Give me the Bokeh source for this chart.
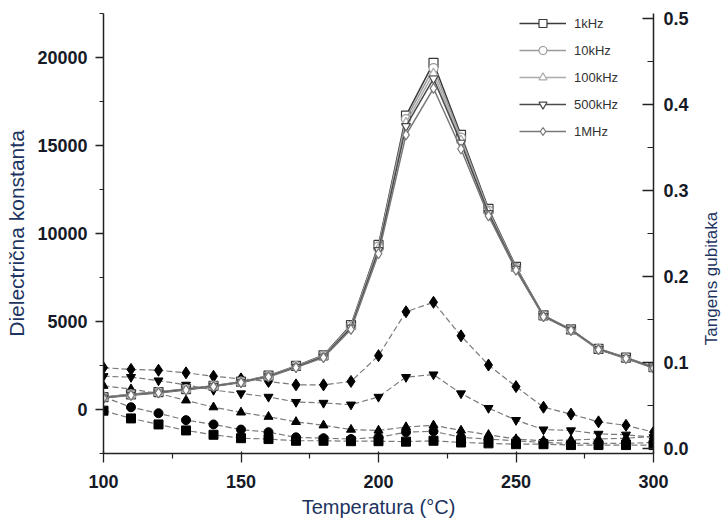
import math
from bokeh.plotting import figure
from bokeh.layouts import row
from bokeh.models import (Range1d, LinearAxis, FixedTicker, PrintfTickFormatter,
                          Legend, LegendItem, ColumnDataSource, Label)
from bokeh.embed import file_html
from bokeh.resources import INLINE

# ---------------- data ----------------
temps = [100, 110, 120, 130, 140, 150, 160, 170, 180, 190, 200,
         210, 220, 230, 240, 250, 260, 270, 280, 290, 300]

freq_labels = ["1kHz", "10kHz", "100kHz", "500kHz", "1MHz"]

# dielectric constant (open markers, left axis)
eps_1k   = [700, 860, 990, 1160, 1350, 1580, 1920, 2480, 3080, 4800, 9350, 16700, 19700, 15600, 11400, 8100, 5350, 4550, 3450, 2950, 2400]
eps_10k  = [690, 850, 980, 1150, 1340, 1570, 1900, 2460, 3050, 4750, 9250, 16500, 19400, 15450, 11300, 8050, 5330, 4540, 3440, 2940, 2390]
eps_100k = [680, 840, 970, 1140, 1330, 1560, 1890, 2440, 3020, 4700, 9150, 16300, 19100, 15300, 11250, 8000, 5310, 4530, 3430, 2930, 2380]
eps_500k = [670, 830, 960, 1130, 1320, 1550, 1880, 2420, 3000, 4650, 9050, 16100, 18800, 15150, 11150, 7980, 5300, 4520, 3420, 2920, 2370]
eps_1M   = [650, 810, 940, 1110, 1300, 1530, 1850, 2380, 2950, 4550, 8850, 15600, 18250, 14800, 11000, 7920, 5280, 4500, 3400, 2900, 2350]

# loss tangent (filled markers, right axis)
tan_1k   = [0.044, 0.035, 0.028, 0.021, 0.016, 0.012, 0.011, 0.009, 0.009, 0.0085, 0.0085, 0.008, 0.009, 0.007, 0.006, 0.005, 0.005, 0.004, 0.004, 0.004, 0.004]
tan_10k  = [0.060, 0.048, 0.041, 0.033, 0.028, 0.022, 0.019, 0.013, 0.012, 0.011, 0.013, 0.019, 0.020, 0.013, 0.011, 0.009, 0.007, 0.006, 0.006, 0.006, 0.007]
tan_100k = [0.073, 0.069, 0.064, 0.056, 0.048, 0.042, 0.037, 0.031, 0.027, 0.022, 0.021, 0.025, 0.027, 0.021, 0.016, 0.011, 0.009, 0.010, 0.011, 0.012, 0.014]
tan_500k = [0.084, 0.083, 0.079, 0.074, 0.068, 0.064, 0.060, 0.054, 0.053, 0.051, 0.060, 0.083, 0.086, 0.064, 0.047, 0.033, 0.022, 0.021, 0.017, 0.016, 0.013]
tan_1M   = [0.094, 0.092, 0.091, 0.088, 0.084, 0.081, 0.078, 0.074, 0.074, 0.078, 0.108, 0.159, 0.170, 0.131, 0.097, 0.072, 0.048, 0.040, 0.031, 0.027, 0.019]

x_ticks = [100, 150, 200, 250, 300]
x_minor = [125, 175, 225, 275]
eps_ticks = [0, 5000, 10000, 15000, 20000]
eps_minor = [-2500, 2500, 7500, 12500, 17500, 22500]
tan_ticks = [0.0, 0.1, 0.2, 0.3, 0.4, 0.5]
tan_minor = [0.05, 0.15, 0.25, 0.35, 0.45]

eps_series = [eps_1k, eps_10k, eps_100k, eps_500k, eps_1M]
tan_series = [tan_1k, tan_10k, tan_100k, tan_500k, tan_1M]
markers = ["square", "circle", "triangle", "inverted_triangle", "diamond"]
open_colors = ["#3a3a3a", "#9a9a9a", "#acacac", "#4a4a4a", "#777777"]

FONT = "Liberation Sans"
TICK_COLOR = "#151a26"
LABEL_COLOR = "#1d3360"

# ---------------- main figure ----------------
p = figure(width=700, height=520, output_backend="svg", toolbar_location=None,
           x_range=Range1d(100, 300), y_range=Range1d(-2500, 22500),
           min_border_left=103, min_border_right=47, min_border_top=13, min_border_bottom=67)
p.extra_y_ranges = {"tan": Range1d(-0.0058, 0.5058)}
p.outline_line_color = None
p.xgrid.visible = False
p.ygrid.visible = False
p.background_fill_color = "white"
p.border_fill_color = "white"


def style_axis(ax):
    ax.axis_line_color = "#222222"
    ax.axis_line_width = 1.5
    ax.major_tick_line_color = "#222222"
    ax.minor_tick_line_color = "#222222"
    ax.major_tick_line_width = 1.3
    ax.minor_tick_line_width = 1.2
    ax.major_label_text_font = FONT
    ax.major_label_text_font_style = "bold"
    ax.major_label_text_font_size = "18px"
    ax.major_label_text_color = TICK_COLOR
    ax.axis_label_text_font = FONT
    ax.axis_label_text_font_style = "normal"
    ax.axis_label_text_color = LABEL_COLOR


# bottom axis
xa = p.xaxis[0]
style_axis(xa)
xa.ticker = FixedTicker(ticks=x_ticks, minor_ticks=x_minor)
xa.major_tick_out = 9
xa.major_tick_in = 2
xa.minor_tick_out = 5
xa.minor_tick_in = 0
xa.major_label_standoff = 12
xa.axis_label = "Temperatura (°C)"
xa.axis_label_text_font_size = "20px"
xa.axis_label_standoff = 5

# left axis
ya = p.yaxis[0]
style_axis(ya)
ya.ticker = FixedTicker(ticks=eps_ticks, minor_ticks=eps_minor)
ya.major_tick_out = 8
ya.major_tick_in = 0
ya.minor_tick_out = 4
ya.minor_tick_in = 0
ya.major_label_standoff = 8
ya.axis_label = "Dielectrična konstanta"
ya.axis_label_text_font_size = "21px"
ya.axis_label_standoff = 6

# right axis
ra = LinearAxis(y_range_name="tan")
style_axis(ra)
ra.ticker = FixedTicker(ticks=tan_ticks, minor_ticks=tan_minor)
ra.formatter = PrintfTickFormatter(format="%.1f")
ra.major_tick_out = 0
ra.major_tick_in = 11
ra.minor_tick_out = 0
ra.minor_tick_in = 6
ra.major_label_standoff = 10
p.add_layout(ra, "right")

# ---------------- loss tangent (filled) ----------------
for vals, mk in zip(tan_series, markers):
    src = ColumnDataSource(dict(x=temps, y=vals))
    p.line("x", "y", source=src, y_range_name="tan", line_color="#7a7a7a",
           line_width=1.2, line_dash="6 3")
    p.scatter("x", "y", source=src, y_range_name="tan", marker=mk,
              size=12 if mk == "diamond" else 9,
              fill_color="black", line_color="black")

# ---------------- dielectric constant (open) ----------------
items = []
for vals, mk, col, lab in zip(eps_series, markers, open_colors, freq_labels):
    src = ColumnDataSource(dict(x=temps, y=vals))
    lr = p.line("x", "y", source=src, line_color=col, line_width=1.5)
    sr = p.scatter("x", "y", source=src, marker=mk, size=9 if mk != "diamond" else 10,
                   fill_color="white", line_color=col, line_width=1.2)
    items.append(LegendItem(label=lab, renderers=[lr, sr]))

legend = Legend(items=items, location=(416, 312))
legend.border_line_color = None
legend.background_fill_alpha = 0
legend.padding = 0
legend.margin = 0
legend.spacing = 7
legend.glyph_width = 47
legend.glyph_height = 20
legend.label_height = 20
legend.label_standoff = 8
legend.label_text_font = FONT
legend.label_text_font_size = "13px"
legend.label_text_color = "#333333"
p.add_layout(legend)

# ---------------- narrow strip holding the right-hand axis title ----------------
p2 = figure(width=24, height=520, output_backend="svg", toolbar_location=None,
            x_range=Range1d(0, 1), y_range=Range1d(0, 1),
            min_border_left=0, min_border_right=0, min_border_top=0, min_border_bottom=0)
p2.axis.visible = False
p2.grid.visible = False
p2.outline_line_color = None
p2.background_fill_color = "white"
p2.border_fill_color = "white"
p2.add_layout(Label(x=11, y=175, x_units="screen", y_units="screen",
                    text="Tangens gubitaka", angle=math.pi / 2,
                    text_align="center", text_baseline="middle",
                    text_font=FONT, text_font_size="17px", text_color=LABEL_COLOR))

layout = row(p, p2, spacing=0)
open("out.html", "w").write(file_html(layout, INLINE))
